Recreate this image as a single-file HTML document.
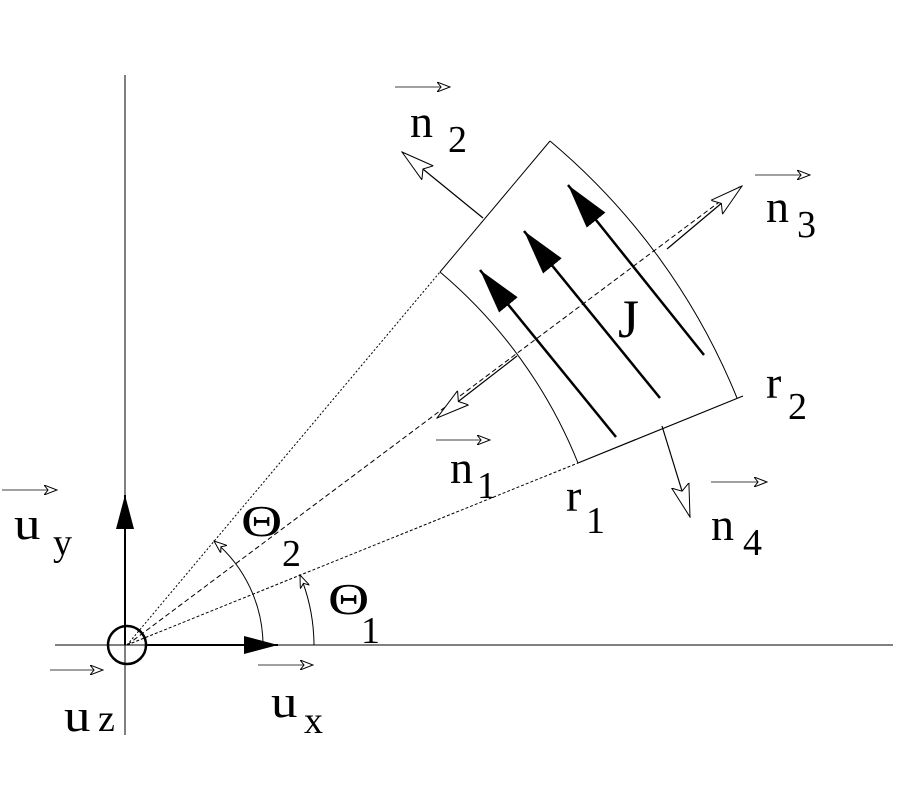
<!DOCTYPE html>
<html><head><style>body{margin:0;background:#fff}svg{display:block}text{font-family:"Liberation Serif",serif;fill:#000}</style></head><body>
<svg width="900" height="800" viewBox="0 0 900 800" xmlns="http://www.w3.org/2000/svg">
<defs>
<marker id="open" markerWidth="14" markerHeight="10" refX="13" refY="5" orient="auto" markerUnits="userSpaceOnUse"><path d="M0,0 L13,5 L0,10 L4,5 Z" fill="#fff" stroke="#000" stroke-width="1"/></marker>
<marker id="big" markerWidth="34" markerHeight="20" refX="33" refY="10" orient="auto" markerUnits="userSpaceOnUse"><path d="M0,1 L33,10 L0,19 L6,10 Z" fill="#fff" stroke="#000" stroke-width="1"/></marker>
<marker id="fill" markerWidth="46" markerHeight="24" refX="45" refY="12" orient="auto" markerUnits="userSpaceOnUse"><path d="M0,0 L45,12 L0,24 Z" fill="#000"/></marker>
<marker id="fill2" markerWidth="34" markerHeight="18" refX="34" refY="9" orient="auto" markerUnits="userSpaceOnUse"><path d="M0,0 L34,9 L0,18 Z" fill="#000"/></marker>
</defs>
<g stroke="#000" fill="none">
<line x1="125" y1="75" x2="125" y2="735" stroke-width="1"/>
<line x1="55" y1="645" x2="893" y2="645" stroke-width="1"/>
<circle cx="127" cy="645" r="19" stroke-width="2.5"/>
<line x1="125" y1="645" x2="125" y2="495" stroke-width="2" marker-end="url(#fill2)"/>
<line x1="145" y1="645" x2="278" y2="645" stroke-width="2" marker-end="url(#fill2)"/>
<line x1="127" y1="645" x2="578" y2="463" stroke-width="1" stroke-dasharray="3,2"/>
<line x1="127" y1="645" x2="440" y2="272" stroke-width="1" stroke-dasharray="2,2"/>
<line x1="127" y1="645" x2="742" y2="185" stroke-width="1" stroke-dasharray="5,3"/>
<path d="M578,463 A487,487 0 0 0 440,272" stroke-width="1"/>
<path d="M737,398 A658,658 0 0 0 550,141" stroke-width="1"/>
<line x1="440" y1="272" x2="550" y2="141" stroke-width="1"/>
<line x1="578" y1="463" x2="743" y2="396" stroke-width="1.2"/>
<line x1="667" y1="249" x2="742" y2="186" stroke-width="1.2" marker-end="url(#big)"/>
<line x1="517" y1="356" x2="437" y2="418" stroke-width="1.2" marker-end="url(#big)"/>
<line x1="483" y1="218" x2="402" y2="152" stroke-width="1.2" marker-end="url(#big)"/>
<line x1="662" y1="426" x2="690" y2="517" stroke-width="1.2" marker-end="url(#big)"/>
<line x1="616" y1="437" x2="480" y2="270" stroke-width="2.5" marker-end="url(#fill)"/>
<line x1="660" y1="398" x2="524" y2="231" stroke-width="2.5" marker-end="url(#fill)"/>
<line x1="704" y1="355" x2="568" y2="185" stroke-width="2.5" marker-end="url(#fill)"/>
<path d="M263,645 A136,136 0 0 0 214,541" stroke-width="1" marker-end="url(#open)"/>
<path d="M314,645 A187,187 0 0 0 300,575" stroke-width="1" marker-end="url(#open)"/>
<g stroke-width="0.8">
<line x1="2" y1="490" x2="57" y2="490" marker-end="url(#open)"/>
<line x1="50" y1="670" x2="103" y2="670" marker-end="url(#open)"/>
<line x1="258" y1="665" x2="313" y2="665" marker-end="url(#open)"/>
<line x1="395" y1="87" x2="450" y2="87" marker-end="url(#open)"/>
<line x1="755" y1="175" x2="810" y2="175" marker-end="url(#open)"/>
<line x1="436" y1="440" x2="490" y2="440" marker-end="url(#open)"/>
<line x1="711" y1="482" x2="767" y2="482" marker-end="url(#open)"/>
</g>
</g>
<g font-size="46">
<text transform="translate(14,539) scale(1.15,1)">u</text><text transform="translate(53,555)" font-size="38">y</text>
<text transform="translate(64,731) scale(1.15,1)">u</text><text transform="translate(98,731)" font-size="38">z</text>
<text transform="translate(271,717) scale(1.15,1)">u</text><text transform="translate(304,733)" font-size="38">x</text>
<text x="410" y="137">n</text><text x="448" y="152" font-size="38">2</text>
<text x="766" y="222">n</text><text x="797" y="237" font-size="38">3</text>
<text x="450" y="483">n</text><text x="477" y="498" font-size="38">1</text>
<text x="711" y="540">n</text><text x="743" y="555" font-size="38">4</text>
<text x="566" y="511">r</text><text x="586" y="533" font-size="38">1</text>
<text x="766" y="398">r</text><text x="788" y="419" font-size="38">2</text>
<text x="618" y="337" font-size="54">J</text>
<text transform="translate(241,536) scale(1.3,1)" font-size="44">Θ</text><text x="282" y="566" font-size="38">2</text>
<text transform="translate(328,614) scale(1.3,1)" font-size="44">Θ</text><text x="361" y="643" font-size="38">1</text>
</g>
</svg>
</body></html>
